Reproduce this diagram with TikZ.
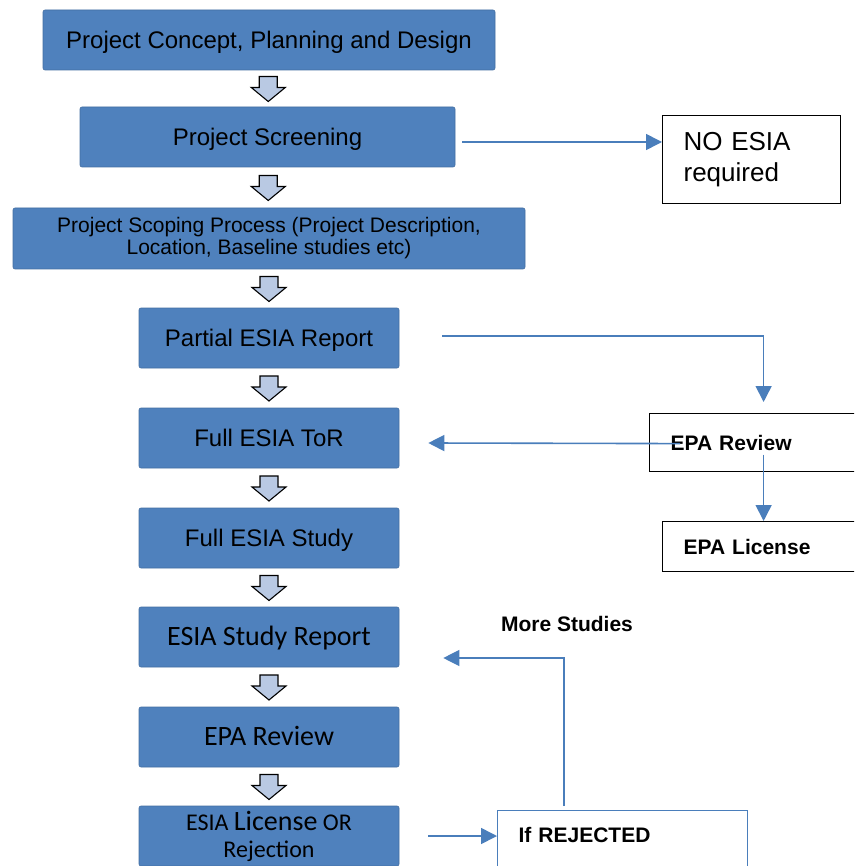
\documentclass[tikz,border=0pt]{standalone}
\usepackage{fontspec}
\setmainfont{Liberation Sans}
\newfontfamily\calfont{Carlito}
\usetikzlibrary{arrows.meta,calc}
\definecolor{boxblue}{RGB}{79,129,189}
\definecolor{lineblue}{RGB}{74,126,187}
\definecolor{arrowfill}{RGB}{185,201,227}
\tikzset{
	stage/.style={rectangle, rounded corners=2pt, fill=boxblue, draw=boxblue!85!black, line width=0.6, minimum height=60, align=center, inner sep=0, font=\fontsize{24}{28}\selectfont},
	oneline/.style={text height=18, text depth=1},
	sidebox/.style={rectangle, draw=black, line width=1.2, align=left, inner ysep=0, inner xsep=21, anchor=north west},
	sidelabel/.style={font=\bfseries\fontsize{21}{25}\selectfont},
	flowline/.style={draw=lineblue, line width=1.6, -{Triangle[length=16pt,width=16pt]}},
	downarrow/.pic={\draw[fill=arrowfill, line width=1.1, line join=miter] (-9,12) -- (9,12) -- (9,1) -- (17,1) -- (0,-13) -- (-17,1) -- (-9,1) -- cycle;}
}
\begin{document}
\begin{tikzpicture}[x=1pt,y=1pt,yscale=-1]
	\clip (0,0) rectangle (854,866);
	\node[stage, oneline, minimum width=452] (concept) at (269,40) {Project Concept, Planning and Design};
	\node[stage, oneline, minimum width=375] (screening) at (267.5,137) {Project Screening};
	\node[stage, minimum width=512, minimum height=61, font=\fontsize{21}{22}\selectfont] (scoping) at (269,238.5) {Project Scoping Process (Project Description,\\Location, Baseline studies etc)};
	\node[stage, oneline, minimum width=260] (partial) at (269,338) {Partial ESIA Report};
	\node[stage, oneline, minimum width=260] (tor) at (269,438) {Full ESIA ToR};
	\node[stage, oneline, minimum width=260] (study) at (269,538) {Full ESIA Study};
	\node[stage, oneline, minimum width=260, font=\calfont\fontsize{28}{30}\selectfont] (studyreport) at (269,637) {ESIA Study Report};
	\node[stage, oneline, minimum width=260, font=\calfont\fontsize{28}{30}\selectfont] (review) at (269,737) {EPA Review};
	\node[stage, minimum width=260, font=\calfont\fontsize{24}{27}\selectfont] (license) at (269,836) {ESIA {\fontsize{28}{27}\selectfont License} OR\\Rejection};
	\foreach \a/\b in {concept/screening, screening/scoping, scoping/partial, partial/tor, tor/study, study/studyreport, studyreport/review, review/license}
		\path ($(\a.south)!0.5!(\b.north)$) pic {downarrow};
	\node[sidebox, text width=136, minimum height=88, font=\fontsize{26}{31}\selectfont] (noesia) at (662,115) {NO ESIA\\required};
	\node[sidebox, sidelabel, text width=186, minimum height=58] (epareview) at (649,413) {EPA Review};
	\node[sidebox, sidelabel, text width=160, minimum height=50] (epalicense) at (662,521) {EPA License};
	\node[sidebox, sidelabel, draw=lineblue, text width=208, text height=32, text depth=38] (rejected) at (497,810) {If REJECTED};
	\node[sidelabel] (morestudies) at (567,624) {More Studies};
	\coordinate (scrout) at ($(screening.east)+(7,5)$);
	\draw[flowline] (scrout) -- (scrout -| noesia.west);
	\draw[flowline] ($(partial.east)+(43,-2)$) -| ($(epareview.north)+(0,-11)$);
	\draw[flowline] ($(epareview.west)+(31,1)$) -- ($(tor.east)+(29,5)$);
	\draw[flowline] ($(epareview.center)+(0,12)$) -- (epalicense.north);
	\draw[flowline] ($(license.east)+(29,0)$) -- (license.east -| rejected.west);
	\draw[flowline, line width=1.2] ($(rejected.north west)+(67,-4)$) |- ($(studyreport.east)+(44,21)$);
\end{tikzpicture}
\end{document}
